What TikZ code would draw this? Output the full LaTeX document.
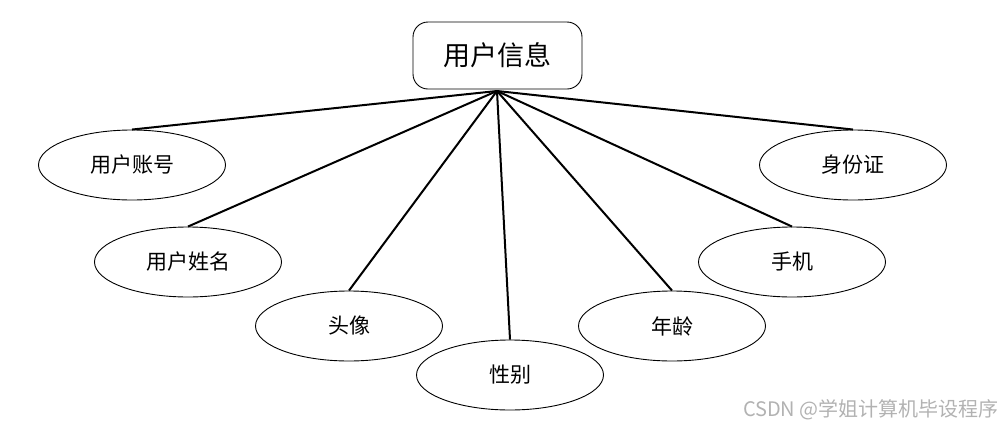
\documentclass[tikz,border=0pt]{standalone}
\usepackage{fontspec}
\setmainfont{Noto Sans CJK SC}
\usetikzlibrary{shapes.geometric}

\tikzset{
  attr/.style={draw,ellipse,line width=0.9pt,minimum width=187pt,minimum height=70pt,inner sep=0pt,font=\fontsize{21}{21}\selectfont},
  entity/.style={draw,rounded corners=15pt,line width=0.9pt,minimum width=169pt,minimum height=67pt,font=\fontsize{27}{27}\selectfont},
  link/.style={line width=2pt}
}

\begin{document}
\begin{tikzpicture}[x=1pt,y=-1pt]
\useasboundingbox (0,0) rectangle (1002,429);

\node[entity] (info) at (497.5,55.5) {用户信息};
\coordinate (hub) at (497,91);

\node[attr] (acct) at (132,165) {用户账号};
\node[attr] (name) at (188,262) {用户姓名};
\node[attr] (avatar) at (349,326) {头像};
\node[attr] (sex) at (510,375) {性别};
\node[attr] (age) at (672,326) {年龄};
\node[attr] (phone) at (792,262) {手机};
\node[attr] (idcard) at (853,165) {身份证};

\foreach \a in {acct,name,avatar,sex,age,phone,idcard}
  \draw[link] (hub) -- (\a.north);

\node[gray!60,anchor=east,inner sep=0pt,font=\fontsize{20}{20}\selectfont] (mark) at (999,410) {CSDN @学姐计算机毕设程序};
\end{tikzpicture}
\end{document}
